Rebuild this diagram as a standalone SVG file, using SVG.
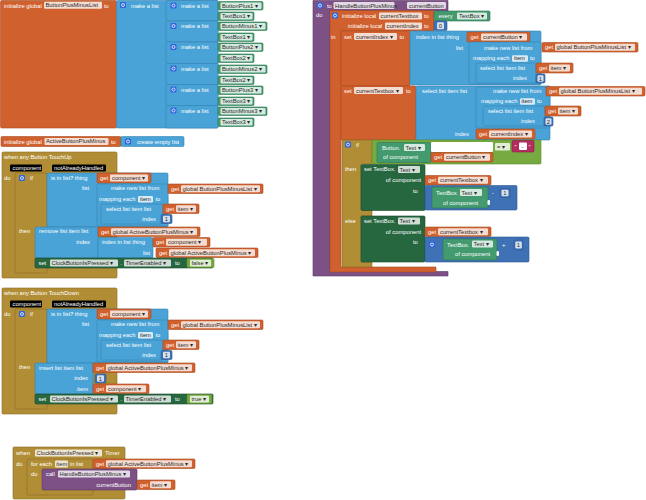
<svg xmlns="http://www.w3.org/2000/svg" width="646" height="500" viewBox="0 0 646 500">
<defs>
<style>
text{font-family:"Liberation Sans",Arial,sans-serif;font-size:5.8px;fill:#fff}
.ft{fill:#2a2a2a}
.e{text-anchor:end}
rect{rx:1.2}
.v{fill:#D0612E;stroke:#A84A1F;stroke-width:.6}
.l{fill:#4AA3D6;stroke:#3584B4;stroke-width:.6}
.c{fill:#439A6F;stroke:#2E7751;stroke-width:.6}
.s{fill:#27673F;stroke:#1A4B2D;stroke-width:.6}
.k{fill:#B18E35;stroke:#8A6D25;stroke-width:.6}
.p{fill:#7D5186;stroke:#5E3A66;stroke-width:.6}
.m{fill:#3F71B5;stroke:#2D5890;stroke-width:.6}
.g{fill:#77AB41;stroke:#5C8A2E;stroke-width:.6}
.t{fill:#B32D5E;stroke:#8C1F46;stroke-width:.6}
.f{fill:#fff;fill-opacity:.78;stroke:none}
.pb{fill:#000}
.gr{fill:#2F64DD}
.gc{fill:none;stroke:#fff;stroke-width:.8}
</style>
<g id="gear"><rect class="gr" x="0" y="0" width="6" height="6"/><circle class="gc" cx="3" cy="3" r="1.5"/></g>
</defs>

<g id="init-ButtonPlusMinusList">
<rect class="v" x="0.5" y="0.5" width="116" height="127.5"/>
<text x="4" y="7.5">initialize global</text>
<rect class="f" x="44" y="1.8" width="58" height="7"/>
<text class="ft" x="45.5" y="7.3">ButtonPlusMinusList</text>
<text x="104" y="7.5">to</text>
<rect class="l" x="116.5" y="0.5" width="101.5" height="127.5"/>
<use href="#gear" x="120" y="2"/>
<text x="131" y="7.5">make a list</text>
<rect class="l" x="166" y="0.5" width="52" height="20.5"/>
<use href="#gear" x="170.5" y="2.5"/><text x="181" y="7.5">make a list</text>
<rect class="l" x="166" y="21" width="52" height="21"/>
<use href="#gear" x="170.5" y="23"/><text x="181" y="28">make a list</text>
<rect class="l" x="166" y="42" width="52" height="21.5"/>
<use href="#gear" x="170.5" y="44"/><text x="181" y="49">make a list</text>
<rect class="l" x="166" y="63.5" width="52" height="21"/>
<use href="#gear" x="170.5" y="65.5"/><text x="181" y="70.5">make a list</text>
<rect class="l" x="166" y="84.5" width="52" height="21"/>
<use href="#gear" x="170.5" y="86.5"/><text x="181" y="91.5">make a list</text>
<rect class="l" x="166" y="105.5" width="52" height="22.5"/>
<use href="#gear" x="170.5" y="107.5"/><text x="181" y="112.5">make a list</text>

<rect class="c" x="218" y="1.5" width="45" height="8.5"/><rect class="f" x="220.5" y="2.5" width="41" height="6.5"/><text class="ft" x="222" y="7.8">ButtonPlus1 ▾</text>
<rect class="c" x="218" y="12" width="36" height="8.5"/><rect class="f" x="220.5" y="13" width="32" height="6.5"/><text class="ft" x="222" y="18.3">TextBox1 ▾</text>
<rect class="c" x="218" y="22" width="49" height="8.5"/><rect class="f" x="220.5" y="23" width="45" height="6.5"/><text class="ft" x="222" y="28.3">ButtonMinus1 ▾</text>
<rect class="c" x="218" y="33" width="36" height="8.5"/><rect class="f" x="220.5" y="34" width="32" height="6.5"/><text class="ft" x="222" y="39.3">TextBox1 ▾</text>
<rect class="c" x="218" y="43" width="45" height="8.5"/><rect class="f" x="220.5" y="44" width="41" height="6.5"/><text class="ft" x="222" y="49.3">ButtonPlus2 ▾</text>
<rect class="c" x="218" y="54" width="36" height="8.5"/><rect class="f" x="220.5" y="55" width="32" height="6.5"/><text class="ft" x="222" y="60.3">TextBox2 ▾</text>
<rect class="c" x="218" y="65" width="49" height="8.5"/><rect class="f" x="220.5" y="66" width="45" height="6.5"/><text class="ft" x="222" y="71.3">ButtonMinus2 ▾</text>
<rect class="c" x="218" y="76" width="36" height="8.5"/><rect class="f" x="220.5" y="77" width="32" height="6.5"/><text class="ft" x="222" y="82.3">TextBox2 ▾</text>
<rect class="c" x="218" y="86" width="45" height="8.5"/><rect class="f" x="220.5" y="87" width="41" height="6.5"/><text class="ft" x="222" y="92.3">ButtonPlus3 ▾</text>
<rect class="c" x="218" y="97" width="36" height="8.5"/><rect class="f" x="220.5" y="98" width="32" height="6.5"/><text class="ft" x="222" y="103.3">TextBox3 ▾</text>
<rect class="c" x="218" y="107" width="49" height="8.5"/><rect class="f" x="220.5" y="108" width="45" height="6.5"/><text class="ft" x="222" y="113.3">ButtonMinus3 ▾</text>
<rect class="c" x="218" y="118" width="36" height="8.5"/><rect class="f" x="220.5" y="119" width="32" height="6.5"/><text class="ft" x="222" y="124.3">TextBox3 ▾</text>
</g>

<g id="init-ActiveButtonPlusMinus">
<rect class="v" x="1" y="136.5" width="120" height="10"/>
<text x="4" y="143.5">initialize global</text>
<rect class="f" x="44.5" y="138" width="64" height="7"/>
<text class="ft" x="46" y="143.4">ActiveButtonPlusMinus</text>
<text x="111" y="143.5">to</text>
<rect class="l" x="121" y="136.5" width="63" height="10"/>
<use href="#gear" x="125" y="138.5"/>
<text x="137" y="143.5">create empty list</text>
</g>

<g id="when-TouchUp">
<rect class="k" x="2" y="152" width="115" height="126"/>
<text x="4" y="159">when any Button TouchUp</text>
<rect class="pb" x="10" y="164.5" width="32" height="7"/><text x="12.5" y="170">component</text>
<rect class="pb" x="52" y="164.5" width="54" height="7"/><text x="54" y="170">notAlreadyHandled</text>
<text x="4" y="180">do</text>
<rect class="k" x="15" y="173" width="32" height="100"/>
<use href="#gear" x="19" y="175"/>
<text x="30" y="180">if</text>
<rect class="l" x="47" y="173" width="121" height="54"/>
<text x="51" y="180">is in list? thing</text>
<rect class="v" x="97" y="173" width="54" height="10"/><text x="100" y="180">get</text><rect class="f" x="110" y="174.5" width="38" height="7"/><text class="ft" x="112" y="180">component ▾</text>
<text class="e" x="89" y="190">list</text>
<rect class="l" x="97" y="184" width="71" height="42"/>
<text x="111" y="190">make new list from</text>
<rect class="v" x="168" y="184" width="95" height="9.5"/><text x="171" y="190.5">get</text><rect class="f" x="181" y="185.2" width="79" height="7"/><text class="ft" x="182.5" y="190.5">global ButtonPlusMinusList ▾</text>
<text x="99" y="201">mapping each</text><rect class="f" x="138" y="196" width="15" height="6.5"/><text class="ft" x="140" y="201">item</text><text x="155.5" y="201">to</text>
<rect class="l" x="101" y="204" width="62" height="20"/>
<text x="106" y="211">select list item  list</text>
<rect class="v" x="163" y="204" width="36" height="9.5"/><text x="166" y="210.5">get</text><rect class="f" x="176" y="205.3" width="20" height="7"/><text class="ft" x="177.5" y="210.5">item ▾</text>
<text class="e" x="156" y="221">index</text>
<rect class="m" x="161" y="214.5" width="11" height="9"/><rect class="f" x="163" y="215.8" width="7" height="6.5"/><text class="ft" x="164.8" y="221">1</text>
<text x="19" y="233">then</text>
<rect class="l" x="35" y="227" width="63" height="31"/>
<text x="39" y="233">remove list item  list</text>
<rect class="v" x="98" y="227" width="102" height="9.5"/><text x="101" y="233.5">get</text><rect class="f" x="111" y="228.3" width="86" height="7"/><text class="ft" x="112.5" y="233.5">global ActiveButtonPlusMinus ▾</text>
<text class="e" x="90" y="244">index</text>
<rect class="l" x="98" y="237.5" width="55" height="20.5"/>
<text x="102" y="244">index in list  thing</text>
<rect class="v" x="153" y="237.5" width="57" height="9.5"/><text x="156" y="244">get</text><rect class="f" x="166" y="238.8" width="41" height="7"/><text class="ft" x="168" y="244">component ▾</text>
<text class="e" x="150" y="255">list</text>
<rect class="v" x="156" y="248" width="102" height="9.5"/><text x="159" y="254.5">get</text><rect class="f" x="169" y="249.3" width="86" height="7"/><text class="ft" x="170.5" y="254.5">global ActiveButtonPlusMinus ▾</text>
<rect class="s" x="35" y="258" width="178" height="10"/>
<text x="38.5" y="265">set</text>
<rect class="f" x="50" y="259.5" width="68" height="7"/><text class="ft" x="51.5" y="265">ClockButtonIsPressed ▾</text>
<text x="120.5" y="265">.</text>
<rect class="f" x="124" y="259.5" width="47" height="7"/><text class="ft" x="125.5" y="265">TimerEnabled ▾</text>
<text x="175" y="265">to</text>
<rect class="g" x="187" y="258.5" width="27" height="9"/><rect class="f" x="190" y="259.7" width="21" height="6.8"/><text class="ft" x="191.5" y="265">false ▾</text>
</g>

<g id="when-TouchDown">
<rect class="k" x="2" y="288" width="115" height="126"/>
<text x="4" y="295">when any Button TouchDown</text>
<rect class="pb" x="10" y="300.5" width="32" height="7"/><text x="12.5" y="306">component</text>
<rect class="pb" x="52" y="300.5" width="54" height="7"/><text x="54" y="306">notAlreadyHandled</text>
<text x="4" y="316">do</text>
<rect class="k" x="15" y="309" width="32" height="100"/>
<use href="#gear" x="19" y="311"/>
<text x="30" y="316">if</text>
<rect class="l" x="47" y="309" width="121" height="54"/>
<text x="51" y="316">is in list? thing</text>
<rect class="v" x="97" y="309" width="54" height="10"/><text x="100" y="316">get</text><rect class="f" x="110" y="310.5" width="38" height="7"/><text class="ft" x="112" y="316">component ▾</text>
<text class="e" x="89" y="326">list</text>
<rect class="l" x="97" y="320" width="71" height="42"/>
<text x="111" y="326">make new list from</text>
<rect class="v" x="168" y="320" width="95" height="9.5"/><text x="171" y="326.5">get</text><rect class="f" x="181" y="321.2" width="79" height="7"/><text class="ft" x="182.5" y="326.5">global ButtonPlusMinusList ▾</text>
<text x="99" y="337">mapping each</text><rect class="f" x="138" y="332" width="15" height="6.5"/><text class="ft" x="140" y="337">item</text><text x="155.5" y="337">to</text>
<rect class="l" x="101" y="340" width="62" height="20"/>
<text x="106" y="347">select list item  list</text>
<rect class="v" x="163" y="340" width="36" height="9.5"/><text x="166" y="346.5">get</text><rect class="f" x="176" y="341.3" width="20" height="7"/><text class="ft" x="177.5" y="346.5">item ▾</text>
<text class="e" x="156" y="357">index</text>
<rect class="m" x="161" y="350.5" width="11" height="9"/><rect class="f" x="163" y="351.8" width="7" height="6.5"/><text class="ft" x="164.8" y="357">1</text>
<text x="19" y="369">then</text>
<rect class="l" x="35" y="363" width="58" height="31"/>
<text x="39" y="369.5">insert list item  list</text>
<rect class="v" x="93" y="363" width="102" height="9.5"/><text x="96" y="369.5">get</text><rect class="f" x="106" y="364.3" width="86" height="7"/><text class="ft" x="107.5" y="369.5">global ActiveButtonPlusMinus ▾</text>
<text class="e" x="88" y="380">index</text>
<rect class="m" x="95" y="374" width="11" height="9"/><rect class="f" x="97" y="375.3" width="7" height="6.5"/><text class="ft" x="98.8" y="380.5">1</text>
<text class="e" x="88" y="390.5">item</text>
<rect class="v" x="93" y="384" width="56" height="9.5"/><text x="96" y="390.5">get</text><rect class="f" x="106" y="385.3" width="40" height="7"/><text class="ft" x="108" y="390.5">component ▾</text>
<rect class="s" x="35" y="394" width="178" height="10"/>
<text x="38.5" y="401">set</text>
<rect class="f" x="50" y="395.5" width="68" height="7"/><text class="ft" x="51.5" y="401">ClockButtonIsPressed ▾</text>
<text x="120.5" y="401">.</text>
<rect class="f" x="124" y="395.5" width="47" height="7"/><text class="ft" x="125.5" y="401">TimerEnabled ▾</text>
<text x="175" y="401">to</text>
<rect class="g" x="187" y="394.5" width="25" height="9"/><rect class="f" x="190" y="395.7" width="19" height="6.8"/><text class="ft" x="191.5" y="401">true ▾</text>
</g>

<g id="when-Timer">
<rect class="k" x="13" y="447" width="112" height="52"/>
<text x="16" y="455">when</text>
<rect class="f" x="35" y="449.5" width="67" height="7"/><text class="ft" x="36.5" y="455">ClockButtonIsPressed ▾</text>
<text x="105" y="455">Timer</text>
<text x="16" y="466">do</text>
<rect class="k" x="27" y="459" width="66" height="36"/>
<text x="31" y="466">for each</text>
<rect class="f" x="55" y="460.5" width="13" height="7"/><text class="ft" x="56.3" y="466">item</text>
<text x="70" y="466">in list</text>
<rect class="v" x="93" y="459" width="102" height="9.5"/><text x="96" y="465.5">get</text><rect class="f" x="106" y="460.3" width="86" height="7"/><text class="ft" x="107.5" y="465.5">global ActiveButtonPlusMinus ▾</text>
<text x="31" y="476">do</text>
<rect class="p" x="42" y="469" width="95" height="21"/>
<text x="46" y="476">call</text>
<rect class="f" x="58" y="470.5" width="72" height="7"/><text class="ft" x="59.5" y="476">HandleButtonPlusMinus ▾</text>
<text class="e" x="131" y="486.5">currentButton</text>
<rect class="v" x="137" y="480" width="38" height="9.5"/><text x="140" y="486.5">get</text><rect class="f" x="150" y="481.3" width="21" height="7"/><text class="ft" x="151.5" y="486.5">item ▾</text>
</g>

<g id="procedure-HandleButtonPlusMinus">
<path class="p" d="M313,0.5 H448 V11 H330 V271.5 H448 V276 H313 Z"/>
<use href="#gear" x="317" y="2.5"/>
<text x="327" y="7.5">to</text>
<rect class="f" x="333.5" y="2" width="61" height="7"/><text class="ft" x="335" y="7.5">HandleButtonPlusMinus</text>
<rect class="f" x="407" y="2" width="39" height="7"/><text class="ft" x="409" y="7.5">currentButton</text>
<text x="316" y="17">do</text>
<path class="v" d="M330,10.5 H434 V31 H341 V267 H436 V272 H330 Z"/>
<use href="#gear" x="332" y="12.5"/>
<text x="342" y="18">initialize local</text>
<rect class="f" x="379" y="12.5" width="43" height="7"/><text class="ft" x="380.5" y="18">currentTextbox</text>
<text x="424" y="18">to</text>
<rect class="c" x="434" y="11" width="56" height="10"/><text x="438.5" y="18">every</text><rect class="f" x="457" y="12.5" width="30" height="7"/><text class="ft" x="459" y="18">TextBox ▾</text>
<text x="348" y="28">initialize local</text>
<rect class="f" x="385" y="22.5" width="37" height="7"/><text class="ft" x="386.5" y="28">currentIndex</text>
<text x="424" y="28">to</text>
<rect class="m" x="434" y="21" width="13" height="9.5"/><rect class="f" x="437" y="22.3" width="7" height="7"/><text class="ft" x="438.8" y="28">0</text>
<text x="331" y="39">in</text>

<rect class="v" x="341" y="31" width="69" height="55"/>
<text x="344" y="39">set</text>
<rect class="f" x="354" y="33" width="43" height="7"/><text class="ft" x="356" y="38.6">currentIndex ▾</text>
<text x="399.5" y="39">to</text>
<rect class="l" x="410" y="31" width="131" height="54"/>
<text x="416" y="39">index in list  thing</text>
<rect class="v" x="467" y="32" width="63" height="10"/><text x="470.5" y="39">get</text><rect class="f" x="481" y="33.5" width="46" height="7"/><text class="ft" x="483" y="39">currentButton ▾</text>
<text class="e" x="463" y="50">list</text>
<rect class="l" x="469" y="42" width="72" height="42"/>
<text x="484" y="50">make new list from</text>
<rect class="v" x="542" y="42.5" width="96" height="9.5"/><text x="545" y="49">get</text><rect class="f" x="555" y="43.8" width="80" height="7"/><text class="ft" x="556.5" y="49">global ButtonPlusMinusList ▾</text>
<text x="473" y="60">mapping each</text><rect class="f" x="512" y="55.3" width="16" height="6.5"/><text class="ft" x="514" y="60.3">item</text><text x="530" y="60">to</text>
<rect class="l" x="476" y="63" width="60" height="20"/>
<text x="480" y="70">select list item  list</text>
<rect class="v" x="536" y="63" width="37" height="10"/><text x="539" y="70">get</text><rect class="f" x="549" y="64.5" width="21" height="7"/><text class="ft" x="550.5" y="70">item ▾</text>
<text x="513" y="80">index</text>
<rect class="m" x="536" y="74" width="9" height="9"/><rect class="f" x="537.5" y="75.2" width="6" height="6.5"/><text class="ft" x="538.8" y="80.5">1</text>

<rect class="v" x="341" y="86" width="75" height="54"/>
<text x="344" y="92.5">set</text>
<rect class="f" x="354" y="87" width="49" height="7"/><text class="ft" x="356" y="92.5">currentTextbox ▾</text>
<text x="406" y="92.5">to</text>
<rect class="l" x="416" y="86" width="134" height="54"/>
<text x="422" y="92.5">select list item  list</text>
<rect class="l" x="476" y="87" width="74" height="41"/>
<text x="493" y="92.5">make new list from</text>
<rect class="v" x="546" y="86.5" width="99" height="9.5"/><text x="549" y="93">get</text><rect class="f" x="559" y="87.8" width="83" height="7"/><text class="ft" x="560.5" y="93">global ButtonPlusMinusList ▾</text>
<text x="481" y="103">mapping each</text><rect class="f" x="520" y="98.3" width="15" height="6.5"/><text class="ft" x="521.5" y="103.3">item</text><text x="537" y="103">to</text>
<rect class="l" x="483" y="106" width="62" height="20"/>
<text x="488" y="113">select list item  list</text>
<rect class="v" x="545" y="106" width="36" height="10"/><text x="548" y="113">get</text><rect class="f" x="558" y="107.5" width="20" height="7"/><text class="ft" x="559.5" y="113">item ▾</text>
<text x="521" y="123">index</text>
<rect class="m" x="544" y="117" width="9" height="9"/><rect class="f" x="545.5" y="118.2" width="6" height="6.5"/><text class="ft" x="546.8" y="123.5">2</text>
<text x="455" y="136">index</text>
<rect class="v" x="476" y="129" width="59" height="10"/><text x="479" y="136">get</text><rect class="f" x="489" y="130.5" width="43" height="7"/><text class="ft" x="491" y="136">currentIndex ▾</text>

<path class="k" d="M342,140 H372 V164 H361 V210 H372 V216 H361 V262 H372 V267 H342 Z"/>
<use href="#gear" x="345" y="141.5"/>
<text x="356" y="147">if</text>
<rect class="g" x="372" y="140" width="169" height="24"/>
<rect class="c" x="377" y="142.5" width="54" height="20"/>
<text x="382" y="150">Button.</text>
<rect class="f" x="404" y="144" width="21" height="7"/><text class="ft" x="405.5" y="149.5">Text ▾</text>
<text x="383" y="159">of component</text>
<rect x="431" y="142" width="62" height="10" fill="#fff" rx="0"/>
<rect class="v" x="431" y="152.5" width="62" height="9.5"/><text x="434" y="159">get</text><rect class="f" x="444" y="153.8" width="46" height="7"/><text class="ft" x="446" y="159">currentButton ▾</text>
<rect class="f" x="495" y="143" width="15" height="7.5"/><text class="ft" x="497" y="149">= ▾</text>
<rect class="t" x="512" y="140.5" width="22" height="11.5"/>
<text x="514.5" y="149">"</text>
<rect x="519" y="142.5" width="8" height="7.5" fill="#fff"/><text class="ft" x="521.6" y="148.5">-</text>
<text x="528.5" y="149">"</text>

<text x="345" y="171">then</text>
<rect class="s" x="361" y="164.5" width="64" height="46"/>
<text x="364" y="171">set TextBox.</text>
<rect class="f" x="398" y="166" width="22" height="7"/><text class="ft" x="399.5" y="171.5">Text ▾</text>
<text class="e" x="421" y="182">of component</text>
<rect class="v" x="425" y="175.5" width="66" height="9.5"/><text x="428" y="182">get</text><rect class="f" x="438" y="176.8" width="50" height="7"/><text class="ft" x="440" y="182">currentTextbox ▾</text>
<text x="413" y="193">to</text>
<rect class="m" x="425" y="185.5" width="92" height="24.5"/>
<rect class="c" x="432" y="187" width="56" height="21"/>
<text x="436" y="195">TextBox.</text>
<rect class="f" x="460" y="189" width="22" height="7"/><text class="ft" x="461.5" y="194.5">Text ▾</text>
<text x="443" y="205">of component</text>
<rect x="487.5" y="200" width="2.5" height="5" fill="#fff" rx="0"/>
<text x="492" y="195">-</text>
<rect class="m" x="500" y="188.5" width="10" height="9"/><rect class="f" x="501.5" y="189.7" width="7" height="6.5"/><text class="ft" x="503.3" y="195">1</text>

<text x="345" y="223">else</text>
<rect class="s" x="361" y="216" width="64" height="46"/>
<text x="364" y="223">set TextBox.</text>
<rect class="f" x="398" y="217.5" width="22" height="7"/><text class="ft" x="399.5" y="223">Text ▾</text>
<text class="e" x="421" y="233.5">of component</text>
<rect class="v" x="425" y="227" width="66" height="9.5"/><text x="428" y="233.5">get</text><rect class="f" x="438" y="228.3" width="50" height="7"/><text class="ft" x="440" y="233.5">currentTextbox ▾</text>
<text x="413" y="244">to</text>
<rect class="m" x="425" y="237" width="104" height="25"/>
<use href="#gear" x="429" y="241.5"/>
<rect class="c" x="443" y="239" width="54" height="21"/>
<text x="447" y="246.5">TextBox.</text>
<rect class="f" x="472" y="240.5" width="21" height="7"/><text class="ft" x="473.5" y="246">Text ▾</text>
<text x="455" y="256">of component</text>
<rect x="496.5" y="251" width="2.5" height="5" fill="#fff" rx="0"/>
<text x="502" y="246.5">+</text>
<rect class="m" x="514" y="240" width="9" height="10"/><rect class="f" x="515.3" y="241.5" width="6.5" height="7"/><text class="ft" x="516.8" y="247">1</text>
</g>
</svg>
